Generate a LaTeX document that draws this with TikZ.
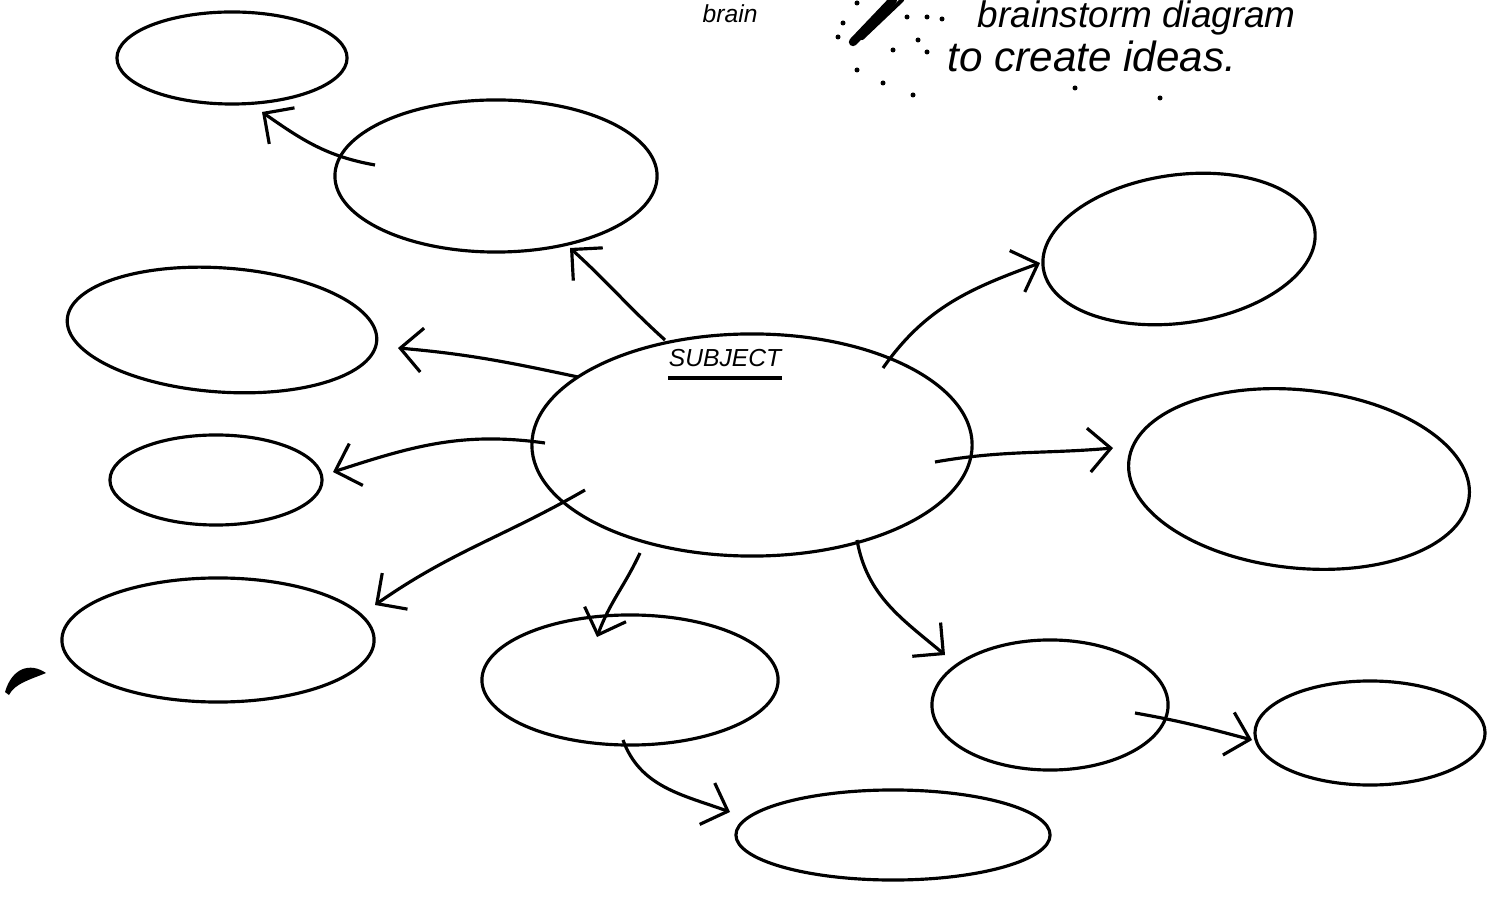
\documentclass[tikz,border=0pt]{standalone}
\usepackage{fontspec}
\newfontfamily\handfont{Liberation Sans}
\usetikzlibrary{arrows.meta,shapes.geometric,calc}

\begin{document}
\begin{tikzpicture}[x=0.01cm, y=0.01cm,
  e/.style={draw, ellipse, line width=0.9pt, inner sep=0pt},
  arr/.style={-{Straight Barb[length=2.2mm,width=4.4mm]}, line width=0.9pt},
  hand/.style={font=\handfont\itshape\fontsize{10.5}{12}\selectfont, inner sep=0pt, anchor=base west}]
\useasboundingbox (0,0) rectangle (1501,900);
\clip (0,0) rectangle (1501,900);
% subject in the middle
\node[e, minimum width=4.40cm, minimum height=2.22cm] (s) at (752,455) {};
\node[font=\handfont\itshape\fontsize{7}{8}\selectfont, inner sep=0pt] (subj) at (725,542) {SUBJECT};
\draw[line width=1.1pt] ([yshift=-3pt]subj.south west) -- ([yshift=-3pt]subj.south east);
% left side
\node[e, minimum width=2.30cm, minimum height=0.92cm] (l1) at (232,842) {};
\node[e, minimum width=3.22cm, minimum height=1.52cm] (l2) at (496,724) {};
\node[e, minimum width=3.10cm, minimum height=1.24cm, rotate=-4] (l3) at (222,570) {};
\node[e, minimum width=2.12cm, minimum height=0.90cm] (l4) at (216,420) {};
\node[e, minimum width=3.12cm, minimum height=1.24cm] (l5) at (218,260) {};
% bottom
\node[e, minimum width=2.96cm, minimum height=1.30cm] (b1) at (630,220) {};
\node[e, minimum width=3.14cm, minimum height=0.90cm] (b2) at (893,65) {};
% right side
\node[e, minimum width=2.74cm, minimum height=1.48cm, rotate=8] (r1) at (1179,651) {};
\node[e, minimum width=3.42cm, minimum height=1.78cm, rotate=-6] (r2) at (1299,421) {};
\node[e, minimum width=2.36cm, minimum height=1.30cm] (r4) at (1050,195) {};
\node[e, minimum width=2.30cm, minimum height=1.04cm] (r5) at (1370,167) {};
% arrows
\draw[arr] ($(l2)+(-121,11)$) to[out=170, in=-35] ($(l1)+(30,-54)$);
\draw[arr] ($(s)+(-87,105)$) to[out=138, in=-42] ($(l2)+(74,-72)$);
\draw[arr] ($(s)+(-174,68)$) to[out=168, in=-5] ($(l3)+(176,-18)$);
\draw[arr] ($(s)+(-207,2)$) to[out=172, in=18] ($(l4)+(117,8)$);
\draw[arr] ($(s)+(-167,-45)$) to[out=210, in=35] ($(l5)+(157,35)$);
\draw[arr] ($(s)+(-112,-108)$) to[out=245, in=70] ($(b1)+(-33,43)$);
\draw[arr] ($(b1)+(-7,-60)$) to[out=-70, in=160] ($(b2)+(-163,23)$);
\draw[arr] ($(s)+(105,-95)$) to[out=-80, in=140] ($(r4)+(-105,50)$);
\draw[arr] ($(r4)+(85,-8)$) to[out=-10, in=165] ($(r5)+(-118,-7)$);
\draw[arr] ($(s)+(183,-17)$) to[out=10, in=185] ($(r2)+(-186,31)$);
\draw[arr] ($(s)+(131,77)$) to[out=55, in=200] ($(r1)+(-139,-14)$);
% note at the top
\node[hand, font=\handfont\itshape\fontsize{7}{8}\selectfont] (brain) at (702,877) {brain};
\node[hand] (note1) at (977,872) {brainstorm diagram};
\node[hand, font=\handfont\itshape\fontsize{12}{14}\selectfont] (note2) at (947,828) {to create ideas.};
\draw[line width=2.4pt, line cap=round] (853,858) -- (893,900);
\draw[line width=1.2pt, line cap=round] (862,862) -- (902,900);
\foreach \p in {(857,897),(843,877),(838,863),(907,883),(927,883),(942,881),
  (893,850),(918,860),(927,848),(857,830),(883,817),(913,805),(1075,812),(1160,802)}
  \fill \p circle (2.5);
% pen blot
\fill (5,208) .. controls (12,232) and (30,238) .. (46,227) .. controls (32,221) and (15,217) .. (9,205) -- cycle;
\end{tikzpicture}
\end{document}
